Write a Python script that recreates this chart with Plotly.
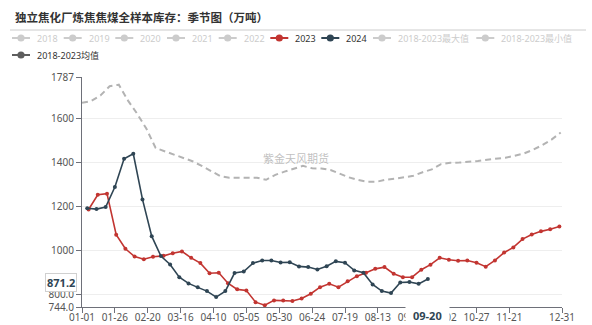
import pandas as pd
import plotly.graph_objects as go

# ---- data -------------------------------------------------------------
title_text = "独立焦化厂炼焦焦煤全样本库存：季节图（万吨）"

# 2023 weekly inventory (shown on the common month-day axis)
dates_2023 = pd.date_range("2023-01-06", periods=52, freq="7D")
vals_2023 = [1186, 1253, 1258, 1072, 1008, 973, 961, 972, 976, 988,
             996, 967, 943, 897, 899, 852, 824, 819, 766, 752,
             774, 774, 771, 783, 804, 834, 849, 834, 861, 884,
             899, 917, 925, 895, 879, 879, 913, 936, 967, 958,
             954, 955, 945, 927, 955, 991, 1014, 1052, 1073, 1087,
             1097, 1109]

# 2024 weekly inventory
dates_2024 = pd.date_range("2024-01-05", periods=38, freq="7D")
vals_2024 = [1192, 1188, 1197, 1288, 1416, 1439, 1232, 1065, 975, 937,
             879, 851, 833, 816, 789, 816, 898, 905, 943, 955,
             955, 946, 947, 928, 925, 914, 929, 951, 945, 910,
             899, 846, 816, 807, 855, 857, 849, 871.2]

# 2018-2023 average
dates_avg = pd.date_range("2024-01-01", periods=53, freq="7D")
vals_avg = [1670, 1678, 1703, 1745, 1752, 1680, 1620, 1552, 1465, 1450,
            1438, 1421, 1405, 1384, 1361, 1338, 1330, 1330, 1333, 1330,
            1321, 1343, 1358, 1371, 1384, 1373, 1372, 1365, 1349, 1332,
            1320, 1312, 1312, 1321, 1326, 1331, 1339, 1355, 1368, 1392,
            1398, 1399, 1402, 1406, 1412, 1416, 1421, 1430, 1440, 1457,
            1478, 1503, 1535]

x_tick_dates = ["2024-01-01", "2024-01-26", "2024-02-20", "2024-03-16",
                "2024-04-10", "2024-05-05", "2024-05-30", "2024-06-24",
                "2024-07-19", "2024-08-13", "2024-09-07", "2024-10-02",
                "2024-10-27", "2024-11-21", "2024-12-31"]
x_tick_labels = [d[5:] for d in x_tick_dates]
y_tick_vals = [744, 800, 1000, 1200, 1400, 1600, 1787]
y_tick_labels = ["744.0", "800.0", "1000", "1200", "1400", "1600", "1787"]

legend_items = ["2018", "2019", "2020", "2021", "2022", "2023", "2024",
                "2018-2023最大值", "2018-2023最小值", "2018-2023均值"]
pointer_date = "2024-09-20"
pointer_label = "09-20"
pointer_value = 871.2

# ---- style -------------------------------------------------------------
W, H = 592, 325
ML, MR, MT, MB = 82, 30, 77, 18
PW, PH = W - ML - MR, H - MT - MB
RED = "#c23531"
NAVY = "#2f4554"
AVG = "#b3b3b3"
OFF = "#cccccc"
FONT = "Noto Sans, Noto Sans CJK SC, sans-serif"


def px(xp):
    return (xp - ML) / PW


def py(yp):
    return (H - MB - yp) / PH


def md(d):
    return d.strftime("2024-%m-%d")


fig = go.Figure()

fig.add_trace(go.Scatter(
    x=[md(d) for d in dates_avg], y=vals_avg, mode="lines",
    line=dict(color=AVG, width=2, dash="6px,4px"),
    hoverinfo="skip", showlegend=False))

fig.add_trace(go.Scatter(
    x=[md(d) for d in dates_2023], y=vals_2023, mode="lines+markers",
    line=dict(color=RED, width=1.6), marker=dict(size=4, color=RED),
    showlegend=False))

fig.add_trace(go.Scatter(
    x=[md(d) for d in dates_2024], y=vals_2024, mode="lines+markers",
    line=dict(color=NAVY, width=1.6), marker=dict(size=4, color=NAVY),
    showlegend=False))

shapes = []
annotations = []

# title and rule under it
annotations.append(dict(
    text="<b>" + title_text + "</b>", xref="paper", yref="paper",
    x=px(13), y=py(17), xanchor="left", yanchor="middle", showarrow=False,
    font=dict(family="Noto Sans CJK SC", size=11.5, color="#333")))
shapes.append(dict(type="line", xref="paper", yref="paper",
                   x0=px(10), x1=px(586), y0=py(30), y1=py(30),
                   line=dict(color="#cccccc", width=1)))

# legend drawn as icon + label pairs
legend_pos = [(35, 38), (86.7, 38), (138.3, 38), (190, 38), (241.7, 38),
              (293.3, 38), (344.3, 38), (396, 38), (499.3, 38), (35, 55)]
legend_icon = {"2023": RED, "2024": NAVY, "2018-2023均值": "#5e5e5e"}
for name, (tx, ty) in zip(legend_items, legend_pos):
    col = legend_icon.get(name, OFF)
    txt_col = "#333" if name in legend_icon else OFF
    cx = tx - 14
    shapes.append(dict(type="line", xref="paper", yref="paper",
                       x0=px(cx - 9), x1=px(cx + 9), y0=py(ty), y1=py(ty),
                       line=dict(color=col, width=2)))
    shapes.append(dict(type="circle", xref="paper", yref="paper",
                       x0=px(cx - 3.6), x1=px(cx + 3.6),
                       y0=py(ty + 3.6), y1=py(ty - 3.6),
                       fillcolor=col, line=dict(color=col, width=0)))
    annotations.append(dict(
        text=name, xref="paper", yref="paper", x=px(tx), y=py(ty),
        xanchor="left", yanchor="middle", showarrow=False,
        font=dict(family=FONT, size=9, color=txt_col)))

# watermark
annotations.append(dict(
    text="紫金天风期货", xref="paper", yref="paper", x=px(296), y=py(158),
    xanchor="center", yanchor="middle", showarrow=False,
    font=dict(family="Noto Sans CJK SC", size=11, color="rgba(150,150,150,0.6)")))

# axis pointer labels
annotations.append(dict(
    text="<b>%.1f</b>" % pointer_value, xref="paper", yref="y",
    x=px(61), y=pointer_value, yshift=-4, xanchor="center", yanchor="middle",
    showarrow=False, bgcolor="white", bordercolor="#d0d0d0", borderwidth=1,
    borderpad=1, font=dict(family=FONT, size=11, color=NAVY)))
annotations.append(dict(
    text="<b>" + pointer_label + "</b>", xref="x", yref="paper",
    x=pointer_date, y=py(315), xanchor="center", yanchor="middle",
    showarrow=False, bgcolor="white", borderpad=7,
    font=dict(family=FONT, size=11, color=NAVY)))

fig.update_layout(
    width=W, height=H, margin=dict(l=ML, r=MR, t=MT, b=MB),
    paper_bgcolor="white", plot_bgcolor="white",
    font=dict(family=FONT, size=10, color="#555"),
    shapes=shapes, annotations=annotations, hovermode=False,
    xaxis=dict(type="date", range=["2024-01-01", "2024-12-31"],
               tickvals=x_tick_dates, ticktext=x_tick_labels,
               showgrid=False, zeroline=False, showline=True,
               linecolor="#6e7079", ticks="outside", ticklen=5,
               tickcolor="#6e7079", tickfont=dict(size=10, color="#555"),
               ticklabelstandoff=-4, automargin=False),
    yaxis=dict(range=[744, 1787], tickvals=y_tick_vals, ticktext=y_tick_labels,
               showgrid=True, gridcolor="#eeeeee", zeroline=False,
               showline=True, linecolor="#6e7079", ticks="outside",
               ticklen=5, tickcolor="#6e7079",
               tickfont=dict(size=10, color="#555"), automargin=False),
)

fig.write_html("out.html")
